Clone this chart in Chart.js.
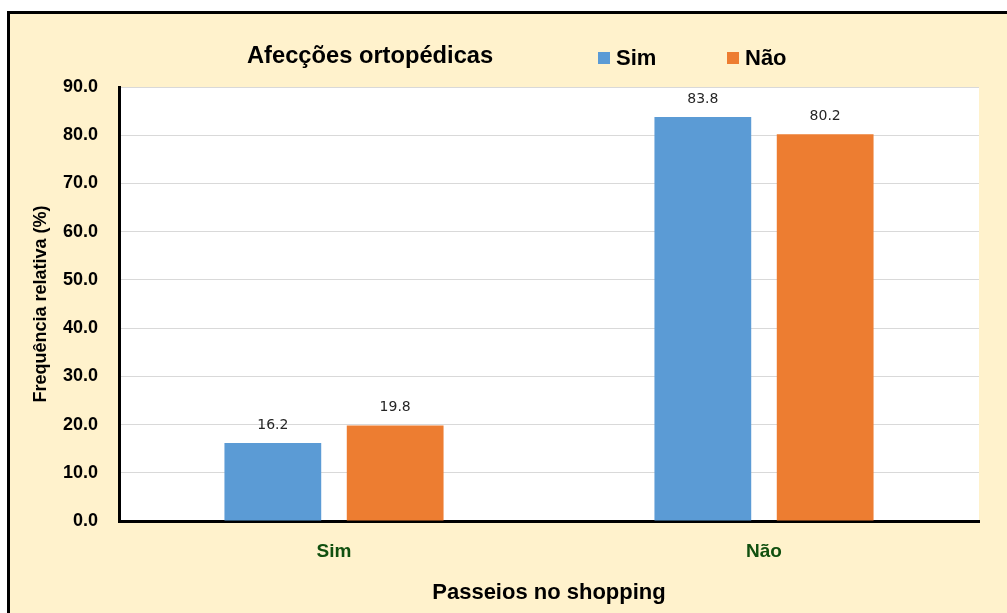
<!DOCTYPE html>
<html>
<head>
<meta charset="utf-8">
<script src="https://cdn.jsdelivr.net/npm/chart.js@4"></script>
<style>
  html, body { margin: 0; padding: 0; background: #ffffff; }
  #wrap { width: 1007px; height: 613px; position: relative; }
</style>
</head>
<body>
<div id="wrap"><canvas id="c" width="1007" height="613"></canvas></div>
<script>
const categories = ['Sim', 'Não'];
const seriesNames = ['Sim', 'Não'];
const seriesSim = [16.2, 83.8];
const seriesNao = [19.8, 80.2];
const yTicks = [0, 10, 20, 30, 40, 50, 60, 70, 80, 90];
const chartTitle = 'Afecções ortopédicas';
const xTitle = 'Passeios no shopping';
const yTitle = 'Frequência relativa (%)';
const colors = ['#5B9BD5', '#ED7D31'];

const frame = {
  id: 'frame',
  beforeDraw(chart) {
    const ctx = chart.ctx;
    ctx.save();
    ctx.fillStyle = '#ffffff';
    ctx.fillRect(0, 0, chart.width, chart.height);
    ctx.fillStyle = '#000000';
    ctx.fillRect(7, 11, chart.width - 7, chart.height - 11);
    ctx.fillStyle = '#FFF2CC';
    ctx.fillRect(10, 14, chart.width - 10, chart.height - 14);
    const a = chart.chartArea;
    ctx.fillStyle = '#ffffff';
    ctx.fillRect(a.left, a.top, a.right - a.left, a.bottom - a.top);
    ctx.restore();
  }
};

const headerAndLabels = {
  id: 'headerAndLabels',
  afterDatasetsDraw(chart) {
    const ctx = chart.ctx;
    ctx.save();
    // data labels
    ctx.font = '14px "DejaVu Sans"';
    ctx.fillStyle = '#262626';
    ctx.textAlign = 'center';
    ctx.textBaseline = 'middle';
    chart.data.datasets.forEach((ds, i) => {
      chart.getDatasetMeta(i).data.forEach((bar, j) => {
        ctx.fillText(ds.data[j].toFixed(1), bar.x, bar.y - 18);
      });
    });
    // title
    ctx.textAlign = 'left';
    ctx.textBaseline = 'alphabetic';
    ctx.fillStyle = '#000000';
    ctx.font = 'bold 23.7px "Liberation Sans", Arial';
    ctx.fillText(chartTitle, 247, 63);
    // legend
    const legendX = [598, 727];
    ctx.font = 'bold 22px "Liberation Sans", Arial';
    chart.data.datasets.forEach((ds, i) => {
      ctx.fillStyle = ds.backgroundColor;
      ctx.fillRect(legendX[i], 52, 12, 12);
      ctx.fillStyle = '#000000';
      ctx.fillText(ds.label, legendX[i] + 18, 65);
    });
    ctx.restore();
  }
};

new Chart(document.getElementById('c'), {
  type: 'bar',
  data: {
    labels: categories,
    datasets: [
      { label: seriesNames[0], data: seriesSim, backgroundColor: colors[0], categoryPercentage: 0.569, barPercentage: 0.791 },
      { label: seriesNames[1], data: seriesNao, backgroundColor: colors[1], categoryPercentage: 0.569, barPercentage: 0.791 }
    ]
  },
  options: {
    responsive: false,
    animation: false,
    devicePixelRatio: 1,
    layout: { padding: { top: 87, right: 28, left: 0, bottom: 0 } },
    plugins: {
      legend: { display: false },
      title: { display: false },
      tooltip: { enabled: false }
    },
    scales: {
      x: {
        grid: { display: false, drawTicks: false },
        border: { display: true, color: '#000000', width: 3 },
        ticks: {
          color: '#11500F',
          padding: 19,
          font: { family: '"Liberation Sans", Arial', weight: 'bold', size: 19 }
        },
        title: {
          display: true,
          text: xTitle,
          color: '#000000',
          padding: { top: 0, bottom: 7 },
          font: { family: '"Liberation Sans", Arial', weight: 'bold', size: 22 }
        },
        afterFit(scale) { scale.height = 92; }
      },
      y: {
        min: 0,
        max: 90,
        afterBuildTicks(scale) { scale.ticks = yTicks.map(v => ({ value: v })); },
        grid: { color: '#D9D9D9', lineWidth: 1, drawTicks: false },
        border: { display: true, color: '#000000', width: 3 },
        ticks: {
          color: '#000000',
          padding: 21,
          callback: v => Number(v).toFixed(1),
          font: { family: '"Liberation Sans", Arial', weight: 'bold', size: 18 }
        },
        title: {
          display: true,
          text: yTitle,
          color: '#000000',
          padding: { top: 30, bottom: 0 },
          font: { family: '"Liberation Sans", Arial', weight: 'bold', size: 18 }
        },
        afterFit(scale) { scale.width = 119; }
      }
    }
  },
  plugins: [frame, headerAndLabels]
});
</script>
</body>
</html>
